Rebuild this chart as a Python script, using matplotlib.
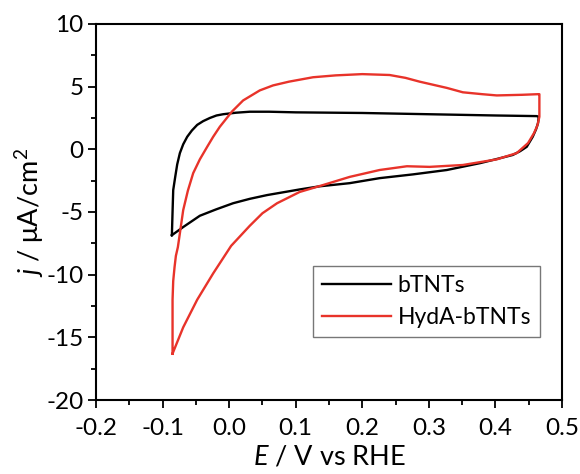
import matplotlib.pyplot as plt
from matplotlib.ticker import MultipleLocator

# bTNTs: forward (anodic) scan then reverse (cathodic) scan
btnts_e = [-0.086, -0.085, -0.084, -0.081, -0.078, -0.074, -0.069, -0.063, -0.056, -0.048, -0.039,
           -0.029, -0.019, -0.009, 0.01, 0.031, 0.06, 0.1, 0.2, 0.3, 0.4, 0.462, 0.465,
           0.464, 0.461, 0.456, 0.447, 0.437, 0.426, 0.4, 0.377, 0.327, 0.276, 0.226, 0.181,
           0.136, 0.106, 0.057, 0.031, 0.006, -0.02, -0.044, -0.069, -0.086]
btnts_j = [-6.85, -5.0, -3.25, -2.2, -1.2, -0.3, 0.4, 1.0, 1.5, 1.95, 2.25,
           2.5, 2.7, 2.8, 2.92, 3.0, 3.0, 2.95, 2.9, 2.8, 2.7, 2.65, 2.6,
           2.1, 1.6, 1.0, 0.2, -0.15, -0.45, -0.8, -1.1, -1.65, -2.0, -2.3, -2.7,
           -2.95, -3.2, -3.65, -3.95, -4.3, -4.8, -5.3, -6.2, -6.85]

# HydA-bTNTs
hyda_e = [-0.085, -0.085, -0.085, -0.084, -0.082, -0.08, -0.077, -0.074, -0.069, -0.062, -0.054,
          -0.044, -0.033, -0.024, -0.014, 0.004, 0.021, 0.046, 0.066, 0.09, 0.126, 0.16, 0.2,
          0.241, 0.265, 0.286, 0.327, 0.351, 0.38, 0.402, 0.44, 0.464, 0.466,
          0.466, 0.466, 0.463, 0.458, 0.449, 0.432, 0.402, 0.351, 0.301, 0.267, 0.226, 0.181,
          0.141, 0.106, 0.072, 0.05, 0.031, 0.003, -0.024, -0.048, -0.069, -0.085]
hyda_j = [-16.3, -14.0, -12.0, -10.5, -9.4, -8.5, -7.8, -6.7, -4.85, -3.3, -1.9,
          -0.8, 0.2, 1.0, 1.8, 3.0, 3.9, 4.7, 5.1, 5.4, 5.75, 5.9, 6.0,
          5.93, 5.7, 5.4, 4.9, 4.55, 4.4, 4.3, 4.35, 4.4, 4.4,
          3.5, 2.6, 1.9, 1.3, 0.5, -0.3, -0.8, -1.25, -1.4, -1.35, -1.65, -2.2,
          -2.85, -3.4, -4.3, -5.1, -6.1, -7.7, -9.9, -12.0, -14.2, -16.3]

plt.rcParams['font.family'] = ['Lato', 'DejaVu Sans']
plt.rcParams['mathtext.fontset'] = 'custom'
plt.rcParams['mathtext.it'] = 'Lato:italic'
plt.rcParams['mathtext.rm'] = 'Lato'

fig = plt.figure(figsize=(5.8, 4.74), dpi=100)
ax = fig.add_axes([0.1655, 0.1561, 0.8035, 0.7933])

ax.plot(btnts_e, btnts_j, color='black', lw=1.7, label='bTNTs')
ax.plot(hyda_e, hyda_j, color='#e8332a', lw=1.7, label='HydA-bTNTs')

ax.set_xlim(-0.2, 0.5)
ax.set_ylim(-20, 10)
ax.xaxis.set_minor_locator(MultipleLocator(0.05))
ax.yaxis.set_minor_locator(MultipleLocator(2.5))
ax.set_xticks([-0.2, -0.1, 0.0, 0.1, 0.2, 0.3, 0.4, 0.5])
ax.set_xticklabels(['-0.2', '-0.1', '0.0', '0.1', '0.2', '0.3', '0.4', '0.5'])
ax.set_yticks([-20, -15, -10, -5, 0, 5, 10])
ax.set_yticklabels(['-20', '-15', '-10', '-5', '0', '5', '10'])

ax.tick_params(which='major', direction='out', length=6, width=1.3, labelsize=17.5, pad=3)
ax.tick_params(axis='x', which='major', pad=7)
ax.tick_params(which='minor', direction='out', length=3.5, width=1.3)
for s in ax.spines.values():
    s.set_linewidth(1.5)

ax.set_xlabel('$E$ / V vs RHE', fontsize=19.5, labelpad=4)
ax.set_ylabel('$j$ / μA/cm$^2$', fontsize=19.5, labelpad=0)

leg = ax.legend(loc='lower right', bbox_to_anchor=(0.953, 0.168), fontsize=16.5, fancybox=False,
                edgecolor='#555555', handlelength=3.0, handletextpad=0.3, borderpad=0.4,
                labelspacing=0.45, borderaxespad=0)
leg.get_frame().set_linewidth(1.0)

fig.savefig('out.png', dpi=100)
